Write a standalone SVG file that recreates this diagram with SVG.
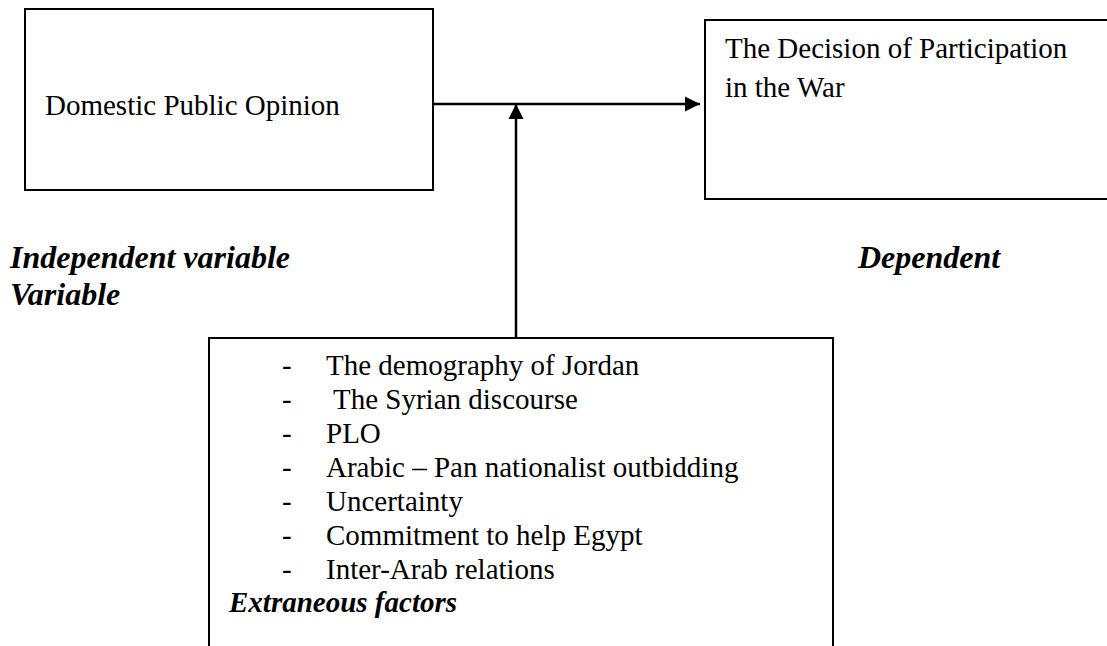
<svg xmlns="http://www.w3.org/2000/svg" width="1107" height="646" viewBox="0 0 1107 646">
<defs>
<style>
.box{fill:#fff;stroke:#000;stroke-width:2}
.t{font-family:"Liberation Serif","Times New Roman",serif;font-size:29px;fill:#000}
.bi{font-family:"Liberation Serif","Times New Roman",serif;font-size:29px;font-weight:bold;font-style:italic;fill:#000}
.lbl{font-size:32px}
.ln{stroke:#000;stroke-width:2.5;fill:none}
</style>
<marker id="ah" markerWidth="16" markerHeight="16" refX="15" refY="8" orient="auto" markerUnits="userSpaceOnUse">
<path d="M0,0.5 L15,8 L0,15.5 Z" fill="#000"/>
</marker>
</defs>
<rect width="1107" height="646" fill="#fff"/>
<g id="node-domestic">
<rect class="box" x="25" y="9" width="408" height="181"/>
<text class="t" x="45" y="115">Domestic Public Opinion</text>
</g>
<g id="node-decision">
<rect class="box" x="705" y="20" width="410" height="179"/>
<text class="t" x="725" y="58">The Decision of Participation</text>
<text class="t" x="725" y="97">in the War</text>
</g>
<g id="node-extraneous">
<rect class="box" x="209" y="338" width="624" height="330"/>
<text class="t" x="282" y="375">-</text><text class="t" x="326" y="375">The demography of Jordan</text>
<text class="t" x="282" y="409">-</text><text class="t" x="333" y="409">The Syrian discourse</text>
<text class="t" x="282" y="443">-</text><text class="t" x="326" y="443">PLO</text>
<text class="t" x="282" y="477">-</text><text class="t" x="326" y="477">Arabic – Pan nationalist outbidding</text>
<text class="t" x="282" y="511">-</text><text class="t" x="326" y="511">Uncertainty</text>
<text class="t" x="282" y="545">-</text><text class="t" x="326" y="545">Commitment to help Egypt</text>
<text class="t" x="282" y="579">-</text><text class="t" x="326" y="579">Inter-Arab relations</text>
<text class="bi" x="229" y="612">Extraneous factors</text>
</g>
<g id="labels">
<text class="bi lbl" x="10" y="268">Independent variable</text>
<text class="bi lbl" x="10" y="305">Variable</text>
<text class="bi lbl" x="858" y="268">Dependent</text>
</g>
<g id="connectors">
<line class="ln" x1="433" y1="104" x2="700" y2="104" marker-end="url(#ah)"/>
<line class="ln" x1="516" y1="338" x2="516" y2="104" marker-end="url(#ah)"/>
</g>
</svg>
